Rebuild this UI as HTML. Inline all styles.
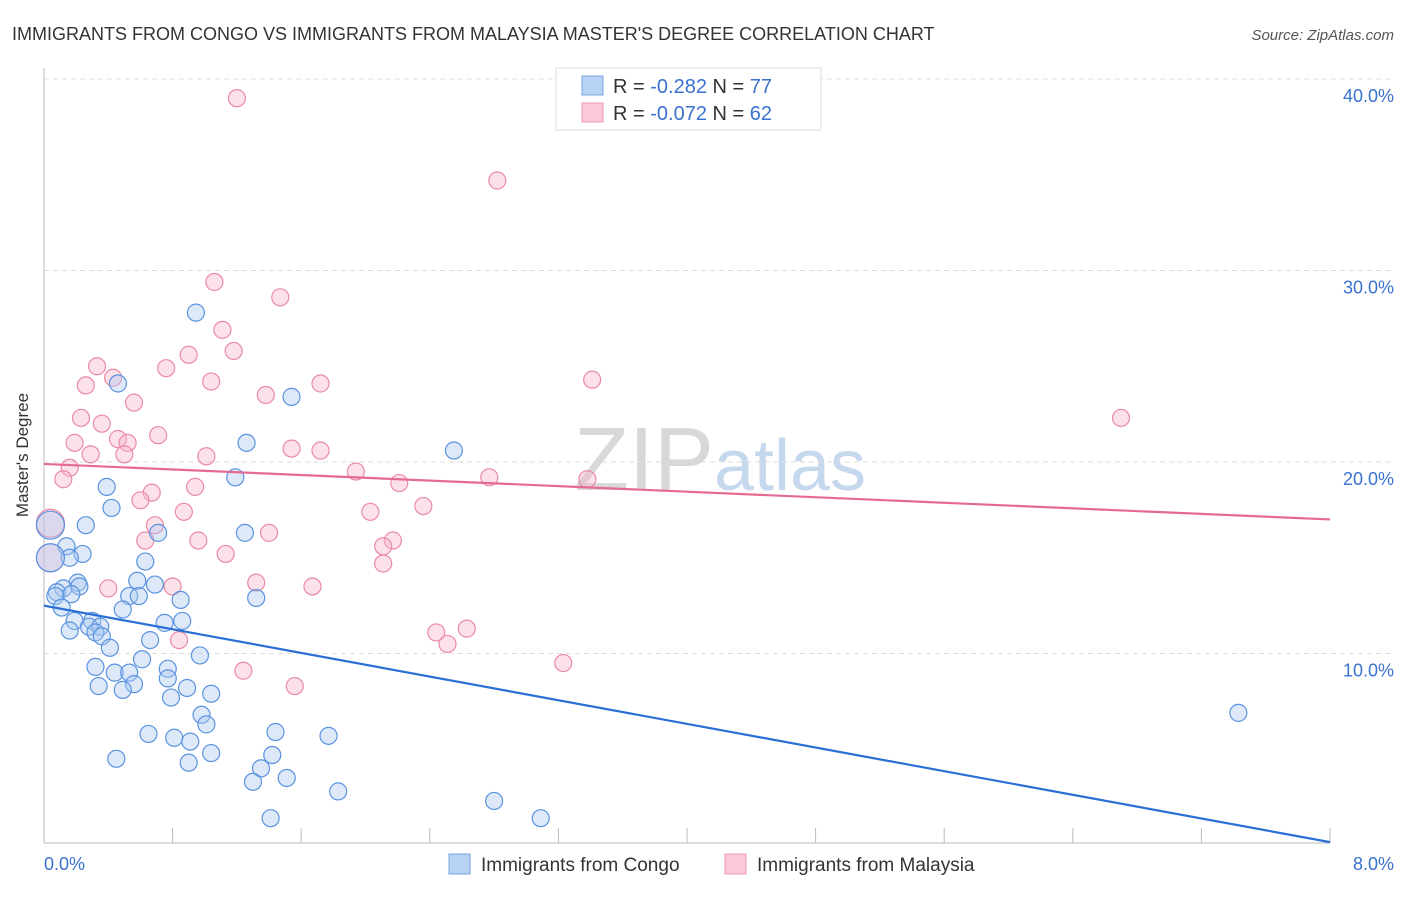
<!DOCTYPE html>
<html><head><meta charset="utf-8"><style>
body{margin:0;background:#fff;font-family:"Liberation Sans",sans-serif;}
svg text{font-family:"Liberation Sans",sans-serif;}
</style></head><body>
<svg width="1406" height="892">
<text x="12" y="40" font-size="18" fill="#333">IMMIGRANTS FROM CONGO VS IMMIGRANTS FROM MALAYSIA MASTER'S DEGREE CORRELATION CHART</text>
<text x="1394" y="40" font-size="15" fill="#555" font-style="italic" text-anchor="end">Source: ZipAtlas.com</text>
<text x="720" y="490" font-size="90" fill="#dfe6ef" text-anchor="middle" font-family="Liberation Serif"><tspan fill="#d8d8d8">ZIP</tspan><tspan font-family="Liberation Sans" font-size="72" fill="#c6d8ee">atlas</tspan></text>
<g id="grid"></g>
<line x1="44" y1="68" x2="44" y2="843" stroke="#bbb"/>
<line x1="44" y1="843" x2="1330" y2="843" stroke="#bbb"/>
<text x="28" y="455" font-size="17" fill="#333" text-anchor="middle" transform="rotate(-90 28 455)">Master's Degree</text>
<text x="44" y="870" font-size="18" fill="#3a72d0">0.0%</text>
<text x="1394" y="870" font-size="18" fill="#3a72d0" text-anchor="end">8.0%</text>
<g id="pts"></g>
<g id="lines"></g>
<g>
<rect x="556" y="68" width="265" height="62" fill="#fff" stroke="#ddd"/>
<rect x="582" y="76" width="21" height="19" fill="#b8d2f4" stroke="#7aa7e6"/>
<text x="613" y="93" font-size="20" fill="#333">R = <tspan fill="#3a72d0">-0.282</tspan>   N = <tspan fill="#3a72d0">77</tspan></text>
<rect x="582" y="103" width="21" height="19" fill="#fbc8d7" stroke="#ee9cb5"/>
<text x="613" y="120" font-size="20" fill="#333">R = <tspan fill="#3a72d0">-0.072</tspan>   N = <tspan fill="#3a72d0">62</tspan></text>
</g>
<g>
<rect x="449" y="854" width="21" height="20" fill="#b8d2f4" stroke="#7aa7e6"/>
<text x="481" y="871" font-size="19" fill="#333">Immigrants from Congo</text>
<rect x="725" y="854" width="21" height="20" fill="#fbc8d7" stroke="#ee9cb5"/>
<text x="757" y="871" font-size="19" fill="#333">Immigrants from Malaysia</text>
</g>
</svg>
<script>
const yTicks=[10,20,30,40];
const yTickLabels=["10.0%","20.0%","30.0%","40.0%"];
const xTicks=[0,0.8,1.6,2.4,3.2,4.0,4.8,5.6,6.4,7.2,8.0];
const congoX=[.945,.46,1.54,1.26,2.55,1.19,.39,.42,.26,1.25,.71,.04,.14,.24,.16,.04,.63,.58,.21,.69,.22,.12,.08,.07,.53,.59,.17,1.32,.85,.11,.49,.19,.30,.86,.75,.28,.35,.16,.32,.36,.66,.41,.97,.61,.32,.77,.44,.53,.77,.34,.56,.89,.49,1.04,.79,.98,1.01,1.44,.65,1.77,.81,.91,1.04,1.42,.45,.90,1.35,1.51,1.30,1.83,2.80,1.41,3.09,7.43];
const congoY=[27.8,24.1,23.4,21.0,20.6,19.2,18.7,17.6,16.7,16.3,16.3,16.7,15.6,15.2,15.0,15.0,14.8,13.8,13.7,13.6,13.5,13.4,13.2,13.0,13.0,13.0,13.1,12.9,12.8,12.4,12.3,11.7,11.7,11.7,11.6,11.4,11.4,11.2,11.1,10.9,10.7,10.3,9.9,9.7,9.3,9.2,9.0,9.0,8.7,8.3,8.4,8.2,8.1,7.9,7.7,6.8,6.3,5.9,5.8,5.7,5.6,5.4,4.8,4.7,4.5,4.3,4.0,3.5,3.3,2.8,2.3,1.4,1.4,6.9];
const malX=[1.20,2.82,1.06,1.47,1.11,1.18,.90,.33,.76,.43,.26,3.41,1.72,1.04,1.38,.56,.23,.36,6.70,.71,.19,.46,.52,1.54,1.72,.29,.50,1.01,.16,1.94,.12,2.77,3.38,2.21,.94,.67,.60,2.36,.87,2.03,.69,.04,1.40,.63,.96,2.17,2.11,1.13,2.11,.04,.80,1.32,1.67,.40,.84,2.44,2.63,2.51,1.24,3.23,1.56];
const malY=[39.0,34.7,29.4,28.6,26.9,25.8,25.6,25.0,24.9,24.4,24.0,24.3,24.1,24.2,23.5,23.1,22.3,22.0,22.3,21.4,21.0,21.2,21.0,20.7,20.6,20.4,20.4,20.3,19.7,19.5,19.1,19.2,19.1,18.9,18.7,18.4,18.0,17.7,17.4,17.4,16.7,16.8,16.3,15.9,15.9,15.9,15.6,15.2,14.7,15.0,13.5,13.7,13.5,13.4,10.7,11.1,11.3,10.5,9.1,9.5,8.3];
const congoTrend=[12.5,0.15];
const malTrend=[19.9,17.0];
const X=v=>44+v/8*1286;
const Y=v=>845-v*19.15;
const NS="http://www.w3.org/2000/svg";
const grid=document.getElementById('grid');
yTicks.forEach((t,i)=>{
 const l=document.createElementNS(NS,'line');
 
 
 l.setAttribute('x1',44);l.setAttribute('x2',1394);l.setAttribute('y1',Y(t));l.setAttribute('y2',Y(t));
 l.setAttribute('stroke','#ddd');l.setAttribute('stroke-dasharray','5,4');grid.appendChild(l);
 const tx=document.createElementNS(NS,'text');
 
 
 tx.setAttribute('x',1394);tx.setAttribute('y',Y(t)+23);tx.setAttribute('text-anchor','end');
 tx.setAttribute('font-size','18');tx.setAttribute('fill','#3a72d0');tx.textContent=yTickLabels[i];grid.appendChild(tx);
});
xTicks.forEach(t=>{
 const l=document.createElementNS(NS,'line');
 
 
 l.setAttribute('x1',X(t));l.setAttribute('x2',X(t));l.setAttribute('y1',828);l.setAttribute('y2',843);
 l.setAttribute('stroke','#bbb');grid.appendChild(l);
});
const pts=document.getElementById('pts');
function dots(xs,ys,fill,stroke,name){
 xs.forEach((x,i)=>{
  const c=document.createElementNS(NS,'circle');
  
  
  c.setAttribute('cx',X(x));c.setAttribute('cy',Y(ys[i]));c.setAttribute('r',x<0.06?14:8.5);
  c.setAttribute('fill',fill);c.setAttribute('fill-opacity','0.4');c.setAttribute('stroke',stroke);c.setAttribute('stroke-width','1.2');
  pts.appendChild(c);
 });
}
dots(malX,malY,'#f7b3c8','#ea8aa8','malaysia-point');
dots(congoX,congoY,'#a9c8f0','#5a93e0','congo-point');
const lines=document.getElementById('lines');
function trend(tr,color,name){
 const l=document.createElementNS(NS,'line');
 
 
 l.setAttribute('x1',X(0));l.setAttribute('x2',X(8));l.setAttribute('y1',Y(tr[0]));l.setAttribute('y2',Y(tr[1]));
 l.setAttribute('stroke',color);l.setAttribute('stroke-width','2.2');lines.appendChild(l);
}
trend(congoTrend,'#2a6fd6','congo-trend-line');
trend(malTrend,'#e56a92','malaysia-trend-line');
</script>
</body></html>
